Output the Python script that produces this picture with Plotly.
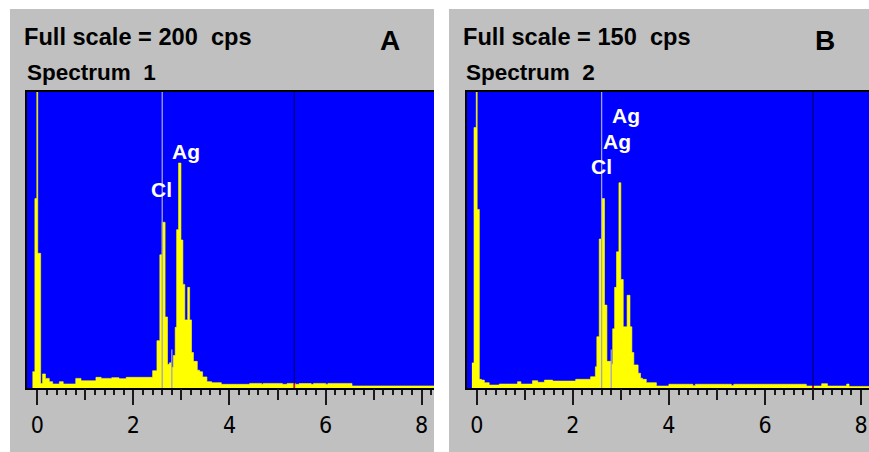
import plotly.graph_objects as go

W, H = 869, 452

# ---- Spectrum 1: channel start energy (keV) and count rate (cps) ----
energy_1 = [-0.10, -0.05, -0.01, 0.01, 0.07, 0.11, 0.17, 0.25, 0.32, 0.46, 0.54,
            0.80, 0.91, 1.22, 1.33, 1.55, 1.70, 1.85, 2.40, 2.49, 2.55, 2.60,
            2.66, 2.71, 2.75, 2.79, 2.83, 2.87, 2.90, 2.94, 2.99, 3.03, 3.07,
            3.13, 3.17, 3.21, 3.25, 3.33, 3.38, 3.44, 3.53, 3.63, 3.83, 4.42,
            4.67, 4.70, 5.10, 5.20, 5.37, 5.45, 5.70, 5.75, 6.00, 6.05, 6.55]
counts_1 = [11, 128, 200, 91, 3, 9.5, 6.5, 4.3, 2.7, 4.3, 2.7,
            6.5, 4.9, 7.2, 6.5, 7.0, 6.3, 7.2, 11.7, 32, 90, 112,
            48, 16, 17, 14, 22, 41, 107, 152, 100, 70, 46,
            68, 46, 24, 18, 12, 11, 7.5, 4.3, 3.6, 2.5, 3.1,
            2.5, 3.1, 2.5, 3.1, 2.5, 3.0, 2.5, 3.1, 2.6, 3.1, 1.4]

# ---- Spectrum 2 ----
energy_2 = [-0.10, -0.056, -0.01, 0.01, 0.055, 0.10, 0.16, 0.26, 0.47, 0.85, 0.92,
            1.16, 1.27, 1.41, 1.58, 2.06, 2.37, 2.47, 2.50, 2.55, 2.60, 2.66,
            2.71, 2.80, 2.83, 2.87, 2.91, 2.96, 3.00, 3.05, 3.13, 3.19, 3.23,
            3.27, 3.36, 3.41, 3.45, 3.53, 3.74, 4.00, 4.50, 4.55, 5.30, 5.35,
            6.86, 7.18, 7.30, 7.70, 7.75]
counts_2 = [12.7, 132, 150, 90.5, 4.4, 4.0, 2.7, 1.5, 2.0, 3.2, 2.0,
            3.7, 2.9, 4.0, 3.5, 4.4, 5.7, 10.8, 26, 75.5, 96, 42,
            13.5, 12, 30, 51, 69, 104, 55, 31, 47, 31, 18,
            11.7, 7.5, 5.0, 4.4, 2.7, 1.0, 1.9, 1.2, 1.9, 1.3, 1.9,
            1.0, 2.2, 1.0, 2.0, 0.8]
spectrum_end = 8.3

full_scale = [200, 150]
panel_letters = ["A", "B"]
spectrum_titles = ["Spectrum\u00a0\u00a01", "Spectrum\u00a0\u00a02"]
scale_titles = ["Full scale = %d\u00a0\u00a0cps" % v for v in full_scale]

# KLM marker lines (keV) and their height as a fraction of full scale
marker_energy = [2.60, 2.80]
marker_height = [1.0, 0.13]
# Measurement cursor position (keV)
cursor_energy = [5.35, 7.00]

# Peak labels: (text, keV, cps)
peak_labels = [
    [("Cl", 2.59, 134), ("Ag", 3.09, 160)],
    [("Cl", 2.60, 112), ("Ag", 2.93, 125), ("Ag", 3.11, 138)],
]

major_ticks = [0, 2, 4, 6, 8]
tick_labels = ["0", "2", "4", "6", "8"]
mid_ticks = [1, 3, 5, 7]
minor_ticks = [round(0.2 * i, 1) for i in range(0, 42)]

# ---- Colours ----
PANEL = "#c0c0c0"
FIELD = "#0000ff"
SPEC = "#ffff00"
TICK = "#1a1a1a"


def px(x):
    return x / W


def py(y):
    return 1 - y / H


# panel geometry in pixels
panels = [
    dict(bg=(10, 434), plot=(27, 434), xr=(-0.214, 8.256)),
    dict(bg=(449, 869), plot=(467, 869), xr=(-0.202, 8.165)),
]
plot_top, plot_bottom = 92, 388

fig = go.Figure()
spectra = [(energy_1, counts_1), (energy_2, counts_2)]

shapes = []
annotations = []
layout = {}


def value_at(energy, counts, e):
    v = counts[0]
    for ei, ci in zip(energy, counts):
        if ei <= e:
            v = ci
    return v


for i, (p, (en, ct)) in enumerate(zip(panels, spectra)):
    n = "" if i == 0 else str(i + 1)
    xa, ya = "x" + n, "y" + n
    ov = "x" + str(i + 3)

    fig.add_trace(go.Scatter(
        x=en + [spectrum_end], y=ct + [ct[-1]],
        mode="lines", line=dict(shape="hv", color=SPEC, width=0.6),
        fill="tozeroy", fillcolor=SPEC, xaxis=xa, yaxis=ya,
        hoverinfo="skip", showlegend=False))
    # empty trace to host the overlay tick axis
    fig.add_trace(go.Scatter(x=[], y=[], xaxis=ov, yaxis=ya, showlegend=False))

    common_x = dict(
        domain=[px(p["plot"][0]), px(p["plot"][1])], range=list(p["xr"]),
        showgrid=False, zeroline=False, fixedrange=True)
    layout["xaxis" + n] = dict(
        common_x, anchor=ya,
        tickmode="array", tickvals=major_ticks, ticktext=tick_labels,
        ticks="outside", ticklen=15, tickwidth=2, tickcolor=TICK,
        showline=True, linecolor="#000000", linewidth=2, mirror=True,
        tickfont=dict(family="DejaVu Sans Condensed, Liberation Sans Narrow, Arial",
                      size=23, color="#000000"),
        minor=dict(tickmode="array", tickvals=minor_ticks, ticks="outside",
                   ticklen=5, tickwidth=2, tickcolor=TICK, showgrid=False))
    layout["xaxis" + str(i + 3)] = dict(
        common_x, anchor=ya, overlaying=xa, side="bottom",
        tickmode="array", tickvals=mid_ticks, ticks="outside",
        ticklen=11, tickwidth=2, tickcolor=TICK, showticklabels=False,
        showline=False)
    layout["yaxis" + n] = dict(
        domain=[py(plot_bottom), py(plot_top)], range=[0, full_scale[i]],
        anchor=xa, showgrid=False, zeroline=False, showticklabels=False,
        ticks="", showline=True, linecolor="#000000", linewidth=2,
        fixedrange=True)

    # grey instrument panel and blue spectrum field
    shapes.append(dict(type="rect", xref="paper", yref="paper", layer="below",
                       x0=px(p["bg"][0]), x1=px(p["bg"][1]), y0=0, y1=py(9),
                       fillcolor=PANEL, line=dict(width=0)))
    shapes.append(dict(type="rect", xref=xa + " domain", yref=ya + " domain",
                       layer="below", x0=0, x1=1, y0=0, y1=1,
                       fillcolor=FIELD, line=dict(width=0)))

    # element marker lines
    for e, h in zip(marker_energy, marker_height):
        shapes.append(dict(type="line", xref=xa, yref=ya + " domain",
                           x0=e, x1=e, y0=0, y1=h,
                           line=dict(color="#a4a4c4", width=1.3)))
    # cursor
    ce = cursor_energy[i]
    shapes.append(dict(type="line", xref=xa, yref=ya + " domain",
                       x0=ce, x1=ce, y0=0, y1=1,
                       line=dict(color="#000080", width=1.3)))
    shapes.append(dict(type="line", xref=xa, yref=ya,
                       x0=ce, x1=ce, y0=0, y1=value_at(en, ct, ce),
                       line=dict(color="#ff0000", width=1.5)))

    # header texts
    left = p["bg"][0]
    annotations.append(dict(
        text=scale_titles[i], xref="paper", yref="paper",
        x=px(left + 12), y=py(37), xanchor="left", yanchor="middle",
        showarrow=False,
        font=dict(family="Liberation Sans, Arial", size=23.6, weight="bold",
                  color="#000000")))
    annotations.append(dict(
        text=spectrum_titles[i], xref="paper", yref="paper",
        x=px(left + 15), y=py(72), xanchor="left", yanchor="middle",
        showarrow=False,
        font=dict(family="Liberation Sans, Arial", size=22.5, weight="bold",
                  color="#000000")))
    annotations.append(dict(
        text=panel_letters[i], xref="paper", yref="paper",
        x=px(p["bg"][1] - 44), y=py(41), xanchor="center", yanchor="middle",
        showarrow=False,
        font=dict(family="Liberation Sans, Arial", size=28, weight="bold",
                  color="#000000")))

    for txt, e, c in peak_labels[i]:
        annotations.append(dict(
            text=txt, xref=xa, yref=ya, x=e, y=c, showarrow=False,
            xanchor="center", yanchor="middle",
            font=dict(family="Liberation Sans, Arial", size=21, weight="bold",
                      color="#ffffff")))

fig.update_layout(
    width=W, height=H, margin=dict(l=0, r=0, t=0, b=0),
    paper_bgcolor="#ffffff", plot_bgcolor="rgba(0,0,0,0)",
    showlegend=False, shapes=shapes, annotations=annotations, **layout)

fig.write_html("out.html", config=dict(displayModeBar=False))
